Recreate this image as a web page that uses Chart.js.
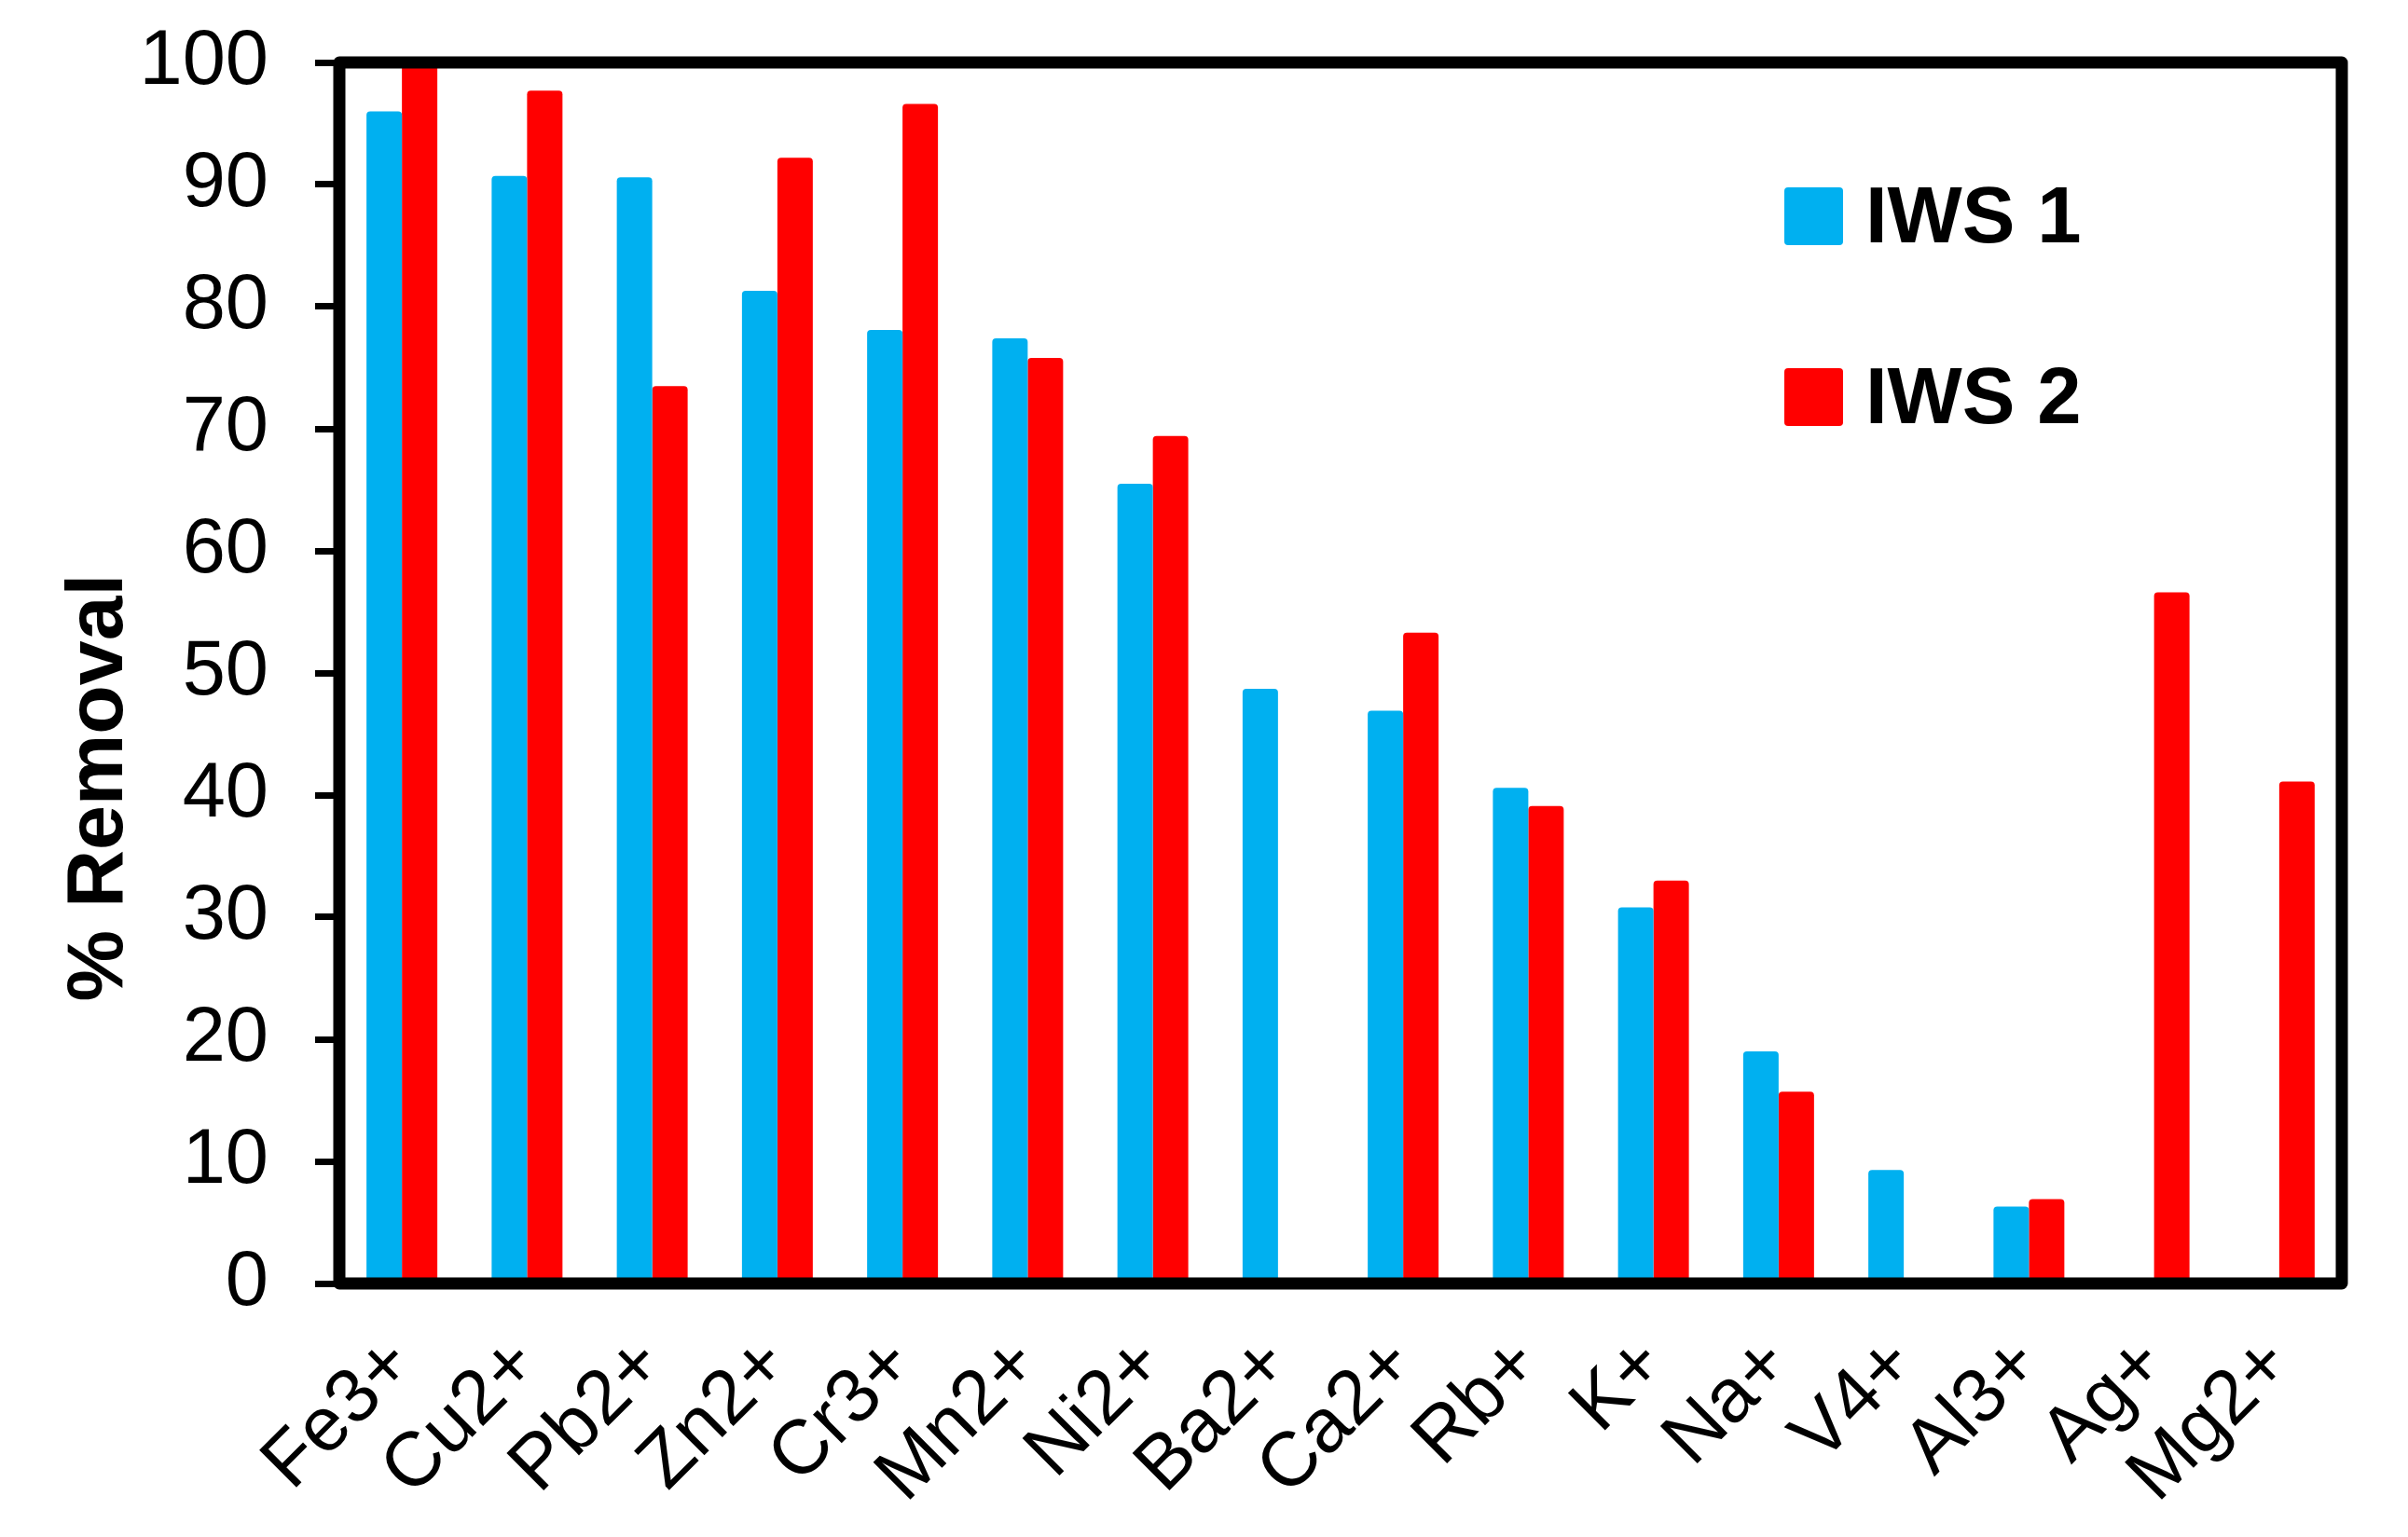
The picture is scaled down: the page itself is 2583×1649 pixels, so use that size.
<!DOCTYPE html>
<html>
<head>
<meta charset="utf-8">
<script src="https://cdn.jsdelivr.net/npm/chart.js@4/dist/chart.umd.min.js"></script>
<style>
  html, body { margin: 0; padding: 0; background: #fff; }
  #wrap { width: 2583px; height: 1649px; }
</style>
</head>
<body>
<div id="wrap"><canvas id="barchart" width="2583" height="1649"></canvas></div>
<script>
var ions = ["Fe3+", "Cu2+", "Pb2+", "Zn2+", "Cr3+", "Mn2+", "Ni2+", "Ba2+",
            "Ca2+", "Rb+", "K+", "Na+", "V4+", "Al3+", "Ag+", "Mg2+"];
var iws1 = [96.0, 90.7, 90.6, 81.3, 78.1, 77.4, 65.5, 48.7,
            46.9, 40.6, 30.8, 19.0, 9.3, 6.3, 0, 0];
var iws2 = [99.8, 97.7, 73.5, 92.2, 96.6, 75.8, 69.4, 0,
            53.3, 39.1, 33.0, 15.7, 0, 6.9, 56.6, 41.1];
var seriesNames = ["IWS 1", "IWS 2"];
var yTicks = [0, 10, 20, 30, 40, 50, 60, 70, 80, 90, 100];
var yTitle = "% Removal";

var FONT = "'Liberation Sans', Arial, sans-serif";

// frame, y title and legend drawn on top of the bars
var extras = {
  id: 'extras',
  afterDatasetsDraw: function (chart) {
    var c = chart.ctx, a = chart.chartArea;
    c.save();
    c.strokeStyle = '#000';
    c.lineWidth = 13;
    c.lineJoin = 'round';
    c.strokeRect(a.left, a.top, a.right - a.left, a.bottom - a.top);

    c.fillStyle = '#000';
    c.font = 'bold 86px ' + FONT;
    c.translate(131, 845);
    c.rotate(-Math.PI / 2);
    c.textAlign = 'center';
    c.textBaseline = 'alphabetic';
    c.fillText(yTitle, 0, 0);
    c.restore();

    c.save();
    c.font = 'bold 85px ' + FONT;
    c.textBaseline = 'alphabetic';
    chart.data.datasets.forEach(function (ds, i) {
      var y = 201 + i * 194;
      c.fillStyle = ds.backgroundColor;
      c.beginPath();
      c.roundRect(1914, y, 63, 62, 4);
      c.fill();
      c.fillStyle = '#000';
      c.fillText(ds.label, 2001, y + 59);
    });
    c.restore();
  }
};

var ctx = document.getElementById("barchart").getContext("2d");
var myChart = new Chart(ctx, {
  type: 'bar',
  data: {
    labels: ions,
    datasets: [
      { label: seriesNames[0], data: iws1, backgroundColor: '#00B0F0' },
      { label: seriesNames[1], data: iws2, backgroundColor: '#FF0000' }
    ]
  },
  options: {
    responsive: false,
    animation: false,
    layout: { padding: { left: 0, top: 67, right: 71, bottom: 0 } },
    datasets: {
      bar: {
        categoryPercentage: 0.566,
        barPercentage: 1.0,
        borderRadius: { topLeft: 4, topRight: 4 },
        borderSkipped: 'start'
      }
    },
    plugins: {
      legend: { display: false },
      tooltip: { enabled: false }
    },
    scales: {
      x: {
        grid: { display: false, drawTicks: false },
        border: { display: false },
        ticks: {
          autoSkip: false,
          minRotation: 45,
          maxRotation: 45,
          padding: 39,
          color: '#000',
          font: { family: FONT, size: 82 }
        },
        afterFit: function (s) { s.height = 272; }
      },
      y: {
        min: 0,
        max: 100,
        afterBuildTicks: function (s) {
          s.ticks = yTicks.map(function (v) { return { value: v }; });
        },
        grid: {
          drawOnChartArea: false,
          drawTicks: true,
          tickLength: 26,
          tickWidth: 7,
          tickColor: '#000'
        },
        border: { display: false },
        ticks: {
          padding: 50,
          color: '#000',
          font: { family: FONT, size: 83 }
        },
        afterFit: function (s) {
          s.width = 364;
          s.paddingTop = 0;
          s.paddingBottom = 0;
        }
      }
    }
  },
  plugins: [extras]
});
</script>
</body>
</html>
